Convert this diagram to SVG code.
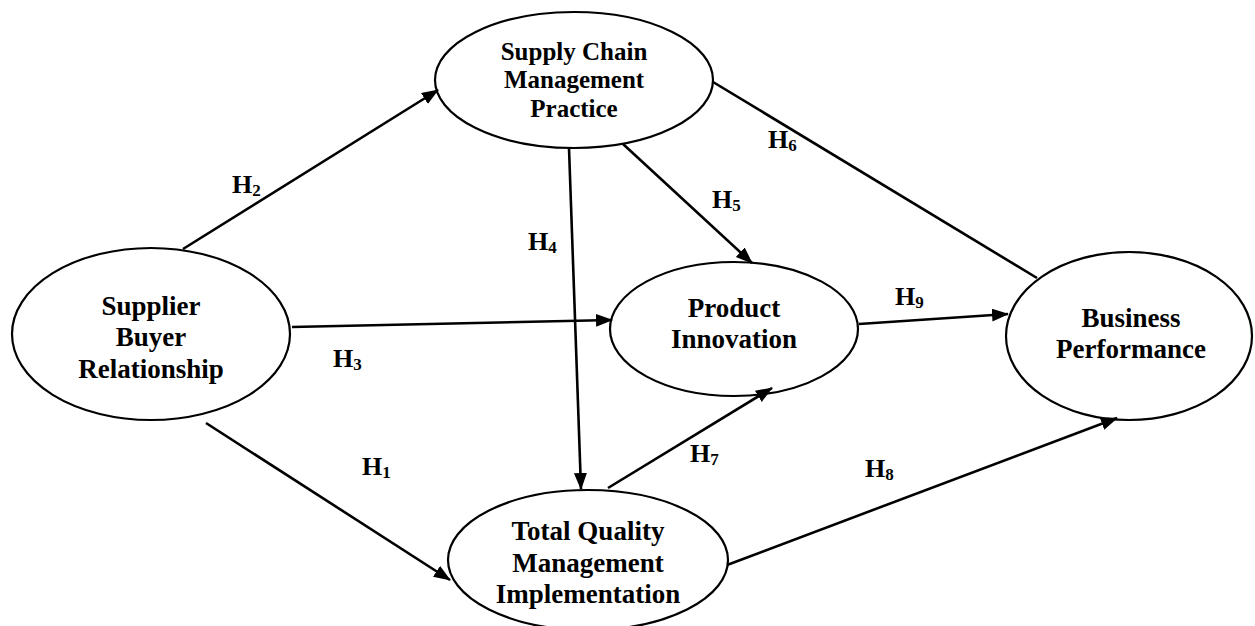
<svg xmlns="http://www.w3.org/2000/svg" width="1255" height="626" viewBox="0 0 1255 626">
  <defs>
    <marker id="arrow" markerUnits="userSpaceOnUse" markerWidth="18" markerHeight="14" refX="16" refY="6.5" orient="auto">
      <path d="M0,0 L17,6.5 L0,13 z" fill="#000"/>
    </marker>
    <style>
      .node ellipse { fill: #fff; stroke: #000; stroke-width: 2.2; }
      .node text { font-family: "Liberation Serif", "Times New Roman", serif; font-weight: bold; font-size: 27px; fill: #000; text-anchor: middle; }
      #scmp text { font-size: 25px; }
      .edge { stroke: #000; stroke-width: 2.6; fill: none; }
      .arr { marker-end: url(#arrow); }
      .lbl { font-family: "Liberation Serif", "Times New Roman", serif; font-weight: bold; font-size: 26px; fill: #000; }
      .sub { font-size: 17px; }
    </style>
  </defs>
  <rect width="1255" height="626" fill="#fff"/>

  <!-- constructs -->
  <g id="scmp" class="node">
    <ellipse cx="574" cy="80" rx="139" ry="68"/>
    <text x="574" y="60">Supply Chain</text>
    <text x="574" y="88">Management</text>
    <text x="574" y="117">Practice</text>
  </g>
  <g id="sbr" class="node">
    <ellipse cx="151" cy="334" rx="139" ry="86"/>
    <text x="151" y="315">Supplier</text>
    <text x="151" y="346">Buyer</text>
    <text x="151" y="378">Relationship</text>
  </g>
  <g id="pi" class="node">
    <ellipse cx="734" cy="329" rx="124" ry="67"/>
    <text x="734" y="317">Product</text>
    <text x="734" y="348">Innovation</text>
  </g>
  <g id="bp" class="node">
    <ellipse cx="1129" cy="336" rx="123" ry="84"/>
    <text x="1131" y="327">Business</text>
    <text x="1131" y="358">Performance</text>
  </g>
  <g id="tqm" class="node">
    <ellipse cx="588" cy="560" rx="140" ry="70"/>
    <text x="588" y="540">Total Quality</text>
    <text x="588" y="572">Management</text>
    <text x="588" y="603">Implementation</text>
  </g>

  <!-- connectors -->
  <g id="connectors">
    <line class="edge arr" x1="183" y1="249" x2="438" y2="90"/>
    <line class="edge arr" x1="292" y1="327" x2="612" y2="320"/>
    <line class="edge arr" x1="206" y1="423" x2="450" y2="580"/>
    <line class="edge arr" x1="569" y1="148" x2="581" y2="489"/>
    <line class="edge arr" x1="623" y1="144" x2="752" y2="263"/>
    <line class="edge" x1="713" y1="82" x2="1037" y2="278"/>
    <line class="edge arr" x1="859" y1="324" x2="1008" y2="314"/>
    <line class="edge arr" x1="608" y1="488" x2="772" y2="388"/>
    <line class="edge arr" x1="727" y1="565" x2="1117" y2="418"/>
  </g>

  <!-- hypothesis labels -->
  <g id="labels">
    <text class="lbl" x="232" y="193">H<tspan class="sub" dy="3">2</tspan></text>
    <text class="lbl" x="768" y="148">H<tspan class="sub" dy="3">6</tspan></text>
    <text class="lbl" x="712" y="208">H<tspan class="sub" dy="3">5</tspan></text>
    <text class="lbl" x="528" y="250">H<tspan class="sub" dy="3">4</tspan></text>
    <text class="lbl" x="333" y="367">H<tspan class="sub" dy="3">3</tspan></text>
    <text class="lbl" x="895" y="305">H<tspan class="sub" dy="3">9</tspan></text>
    <text class="lbl" x="362" y="475">H<tspan class="sub" dy="3">1</tspan></text>
    <text class="lbl" x="690" y="462">H<tspan class="sub" dy="3">7</tspan></text>
    <text class="lbl" x="865" y="477">H<tspan class="sub" dy="3">8</tspan></text>
  </g>
</svg>
